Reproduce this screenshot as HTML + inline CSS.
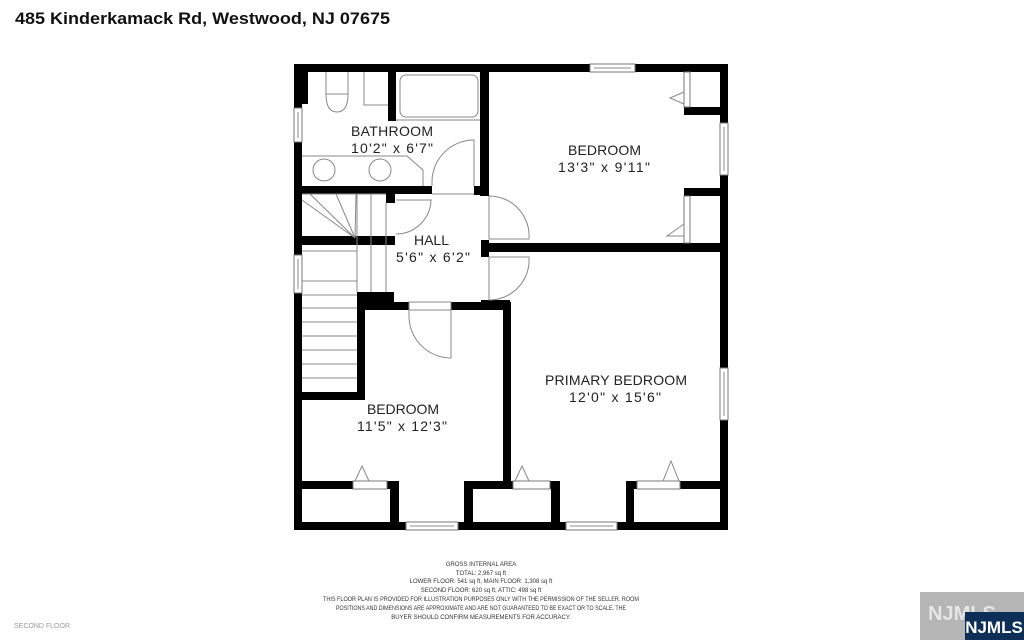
<!DOCTYPE html>
<html><head><style>
html,body{margin:0;padding:0;background:#fff;}
svg{display:block;}
text{font-family:"Liberation Sans",sans-serif;}
</style></head><body>
<svg width="1024" height="640" viewBox="0 0 1024 640" xmlns="http://www.w3.org/2000/svg">
<rect width="1024" height="640" fill="#fff"/>
<text x="15" y="24" font-size="17" font-weight="bold" fill="#111" textLength="375" lengthAdjust="spacingAndGlyphs">485 Kinderkamack Rd, Westwood, NJ 07675</text>

<g fill="#000">
<rect x="294" y="64" width="434" height="8"/>
<rect x="294" y="522" width="434" height="8"/>
<rect x="294" y="64" width="8" height="466"/>
<rect x="720" y="64" width="8" height="466"/>
<rect x="294" y="64" width="14" height="40"/>
<rect x="480" y="64" width="9" height="132"/>
<rect x="388" y="64" width="8" height="57"/>
<rect x="302" y="186" width="130" height="8"/>
<rect x="474" y="186" width="15" height="9"/>
<rect x="386" y="186" width="9" height="17"/>
<rect x="481" y="240" width="8" height="17"/>
<rect x="481" y="300" width="29" height="10"/>
<rect x="302" y="236" width="93" height="9"/>
<rect x="684" y="107" width="38" height="8"/>
<rect x="684" y="188" width="38" height="8"/>
<rect x="684" y="64" width="6" height="8"/>
<rect x="481" y="243" width="241" height="9"/>
<rect x="357" y="292" width="37" height="18"/>
<rect x="357" y="302" width="52" height="8"/>
<rect x="451" y="302" width="59" height="8"/>
<rect x="503" y="302" width="8" height="182"/>
<rect x="357" y="302" width="8" height="98"/>
<rect x="302" y="392" width="63" height="8"/>
<rect x="302" y="481" width="51" height="8"/>
<rect x="387" y="481" width="12" height="8"/>
<rect x="390" y="481" width="9" height="45"/>
<rect x="464" y="481" width="49" height="8"/>
<rect x="464" y="481" width="9" height="45"/>
<rect x="550" y="481" width="10" height="8"/>
<rect x="551" y="481" width="9" height="45"/>
<rect x="626" y="481" width="11" height="8"/>
<rect x="626" y="481" width="8" height="45"/>
<rect x="680" y="481" width="42" height="8"/>
</g>

<g fill="#fff" stroke="#777" stroke-width="1">
<rect x="590" y="64" width="45" height="8"/>
<rect x="720" y="123" width="8" height="52"/>
<rect x="720" y="368" width="8" height="52"/>
<rect x="294" y="108" width="8" height="34"/>
<rect x="294" y="255" width="8" height="38"/>
<rect x="406" y="522" width="52" height="8"/>
<rect x="566" y="522" width="51" height="8"/>
<rect x="684" y="72" width="6" height="35"/>
<rect x="684" y="196" width="6" height="47"/>
<rect x="353" y="481" width="34" height="8"/>
<rect x="513" y="481" width="37" height="8"/>
<rect x="637" y="481" width="43" height="8"/>
</g>
<g fill="none" stroke="#888" stroke-width="1">
<line x1="594" y1="68" x2="631" y2="68"/>
<line x1="724" y1="127" x2="724" y2="171"/>
<line x1="724" y1="372" x2="724" y2="416"/>
<line x1="298" y1="112" x2="298" y2="138"/>
<line x1="298" y1="259" x2="298" y2="289"/>
<line x1="410" y1="526" x2="454" y2="526"/>
<line x1="570" y1="526" x2="613" y2="526"/>
<polyline points="684,92 670,98 684,104"/>
<polyline points="684,224 667,236 684,236"/>
<polyline points="355,481 362,466 369,481"/>
<polyline points="515,481 522,466 529,481"/>
<polyline points="663,481 671,461 679,481"/>
<rect x="400" y="75" width="78" height="42" rx="6"/>
<path d="M326 72 v22 h22 v-22"/>
<path d="M326 94 q0 18 11 18 q11 0 11 -18"/>
<path d="M364 72 v33 h24"/>
<path d="M302 156 h105 l16 14 v16"/>
<circle cx="324" cy="170" r="11"/><circle cx="380" cy="170" r="11"/>
<line x1="396" y1="120" x2="480" y2="120"/>
<path d="M432 186 v-4 a42 42 0 0 1 42 -42 v46"/>
<path d="M396 200 h35 a35 35 0 0 1 -35 34"/>
<path d="M489 196 v43 h40 a40 40 0 0 0 -40 -43"/>
<path d="M489 257 v43 a40 40 0 0 0 40 -43 z"/>
<path d="M409 310 v6 a42 42 0 0 0 42 42 v-48"/>
<rect x="409" y="302" width="42" height="8"/>
<line x1="432" y1="194" x2="474" y2="194"/>
<line x1="302" y1="194" x2="386" y2="194"/>
<path d="M355 238 L302 200 M355 238 L310 194 M355 238 L336 194 M355 238 L356 194"/>
<line x1="357" y1="194" x2="357" y2="292"/>
<line x1="371" y1="194" x2="371" y2="292"/>
<line x1="386" y1="203" x2="386" y2="292"/>
<line x1="302" y1="251" x2="357" y2="251"/>
<line x1="302" y1="281" x2="357" y2="281"/>
<line x1="302" y1="295" x2="357" y2="295"/>
<line x1="302" y1="308" x2="357" y2="308"/>
<line x1="302" y1="322" x2="357" y2="322"/>
<line x1="302" y1="336" x2="357" y2="336"/>
<line x1="302" y1="350" x2="357" y2="350"/>
<line x1="302" y1="364" x2="357" y2="364"/>
<line x1="302" y1="378" x2="357" y2="378"/>
</g>

<g font-size="14" fill="#222" lengthAdjust="spacingAndGlyphs">
<text x="351" y="136" textLength="82">BATHROOM</text>
<text x="351" y="153" textLength="82">10'2" x 6'7"</text>
<text x="568" y="155" textLength="73">BEDROOM</text>
<text x="558" y="172" textLength="92">13'3" x 9'11"</text>
<text x="414" y="245" textLength="35">HALL</text>
<text x="396" y="262" textLength="74">5'6" x 6'2"</text>
<text x="545" y="385" textLength="142">PRIMARY BEDROOM</text>
<text x="569" y="402" textLength="92">12'0" x 15'6"</text>
<text x="367" y="414" textLength="72">BEDROOM</text>
<text x="357" y="431" textLength="90">11'5" x 12'3"</text>
</g>

<g font-size="6" fill="#333" text-anchor="middle">
<text x="481" y="566">GROSS INTERNAL AREA</text>
<text x="481" y="575">TOTAL: 2,967 sq ft</text>
<text x="481" y="583">LOWER FLOOR: 541 sq ft, MAIN FLOOR: 1,308 sq ft</text>
<text x="481" y="592">SECOND FLOOR: 620 sq ft, ATTIC: 498 sq ft</text>
<text x="481" y="601" textLength="316" lengthAdjust="spacingAndGlyphs">THIS FLOOR PLAN IS PROVIDED FOR ILLUSTRATION PURPOSES ONLY WITH THE PERMISSION OF THE SELLER. ROOM</text>
<text x="481" y="610" textLength="290" lengthAdjust="spacingAndGlyphs">POSITIONS AND DIMENSIONS ARE APPROXIMATE AND ARE NOT GUARANTEED TO BE EXACT OR TO SCALE. THE</text>
<text x="481" y="619">BUYER SHOULD CONFIRM MEASUREMENTS FOR ACCURACY.</text>
</g>
<text x="14" y="628" font-size="7" fill="#999">SECOND FLOOR</text>

<rect x="920" y="592" width="104" height="48" fill="#b5b5b5"/>
<text x="928" y="620" font-size="20" font-weight="bold" fill="#e6e6e6">NJMLS</text>
<rect x="965" y="612" width="59" height="28" fill="#0d2f57"/>
<text x="994" y="633" font-size="17" font-weight="bold" fill="#fff" text-anchor="middle">NJMLS</text>
</svg>
</body></html>
